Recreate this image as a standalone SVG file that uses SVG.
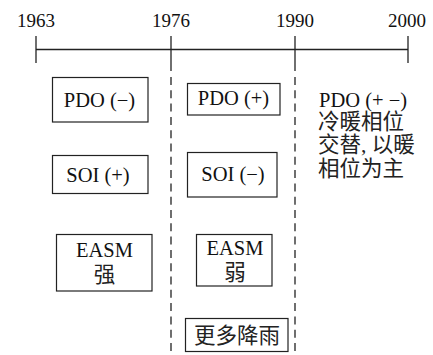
<svg xmlns="http://www.w3.org/2000/svg" width="433" height="355" viewBox="0 0 433 355">
<style>
.ln{stroke:#222;stroke-width:1.3;fill:none}
.dash{stroke:#222;stroke-width:1.3;fill:none;stroke-dasharray:8 5.3}
.box{fill:#fff;stroke:#222;stroke-width:1.2}
.yr{font-family:"Liberation Serif","Times New Roman",serif;font-size:19px;fill:#111;text-anchor:middle}
.t{font-family:"Liberation Serif","Times New Roman",serif;font-size:20.5px;fill:#111;text-anchor:middle}
.tl{font-family:"Liberation Serif","Times New Roman",serif;font-size:20.5px;fill:#111}
.c{font-family:"Liberation Serif","Noto Sans CJK SC","Noto Sans CJK JP",sans-serif;font-size:21.5px;fill:#222}
</style>
<rect width="433" height="355" fill="#fff"/>
<g id="timeline">
<line class="ln" x1="36" y1="49.5" x2="408" y2="49.5"/>
<line class="ln" x1="36" y1="36" x2="36" y2="63"/>
<line class="ln" x1="171" y1="36" x2="171" y2="71"/>
<line class="ln" x1="295" y1="36" x2="295" y2="71"/>
<line class="ln" x1="408" y1="36" x2="408" y2="63"/>
<text class="yr" x="36" y="27">1963</text>
<text class="yr" x="171" y="27">1976</text>
<text class="yr" x="295" y="27">1990</text>
<text class="yr" x="407" y="27">2000</text>
</g>
<g id="connectors">
<line class="dash" x1="171" y1="77" x2="171" y2="355"/>
<line class="dash" x1="295" y1="77" x2="295" y2="355"/>
</g>
<g id="pdo-neg">
<rect class="box" x="52.5" y="77.5" width="95.5" height="44.5"/>
<text class="t" x="99.5" y="107">PDO (−)</text>
</g>
<g id="soi-pos">
<rect class="box" x="52.5" y="155.5" width="95.5" height="38"/>
<text class="t" x="98" y="182">SOI (+)</text>
</g>
<g id="easm-strong">
<rect class="box" x="56.5" y="234.5" width="95.5" height="56.5"/>
<text class="t" x="104.5" y="257">EASM<tspan class="c" x="104.5" y="282">强</tspan></text>
</g>
<g id="pdo-pos">
<rect class="box" x="187.5" y="83.5" width="92.5" height="31.5"/>
<text class="t" x="233.5" y="105">PDO (+)</text>
</g>
<g id="soi-neg">
<rect class="box" x="187.5" y="152.5" width="89.5" height="44.5"/>
<text class="t" x="233" y="181">SOI (−)</text>
</g>
<g id="easm-weak">
<rect class="box" x="196.5" y="234.5" width="75.5" height="51.5"/>
<text class="t" x="235" y="255">EASM<tspan class="c" x="235" y="280">弱</tspan></text>
</g>
<g id="more-rain">
<rect class="box" x="185.5" y="318.5" width="102.5" height="33"/>
<text class="c" x="237" y="343" text-anchor="middle">更多降雨</text>
</g>
<g id="pdo-alt">
<text class="tl" x="319" y="107">PDO (+ −)<tspan class="c" x="318" y="128.5">冷暖相位</tspan><tspan class="c" x="318" y="152">交替, 以暖</tspan><tspan class="c" x="318" y="175.5">相位为主</tspan></text>
</g>
</svg>
